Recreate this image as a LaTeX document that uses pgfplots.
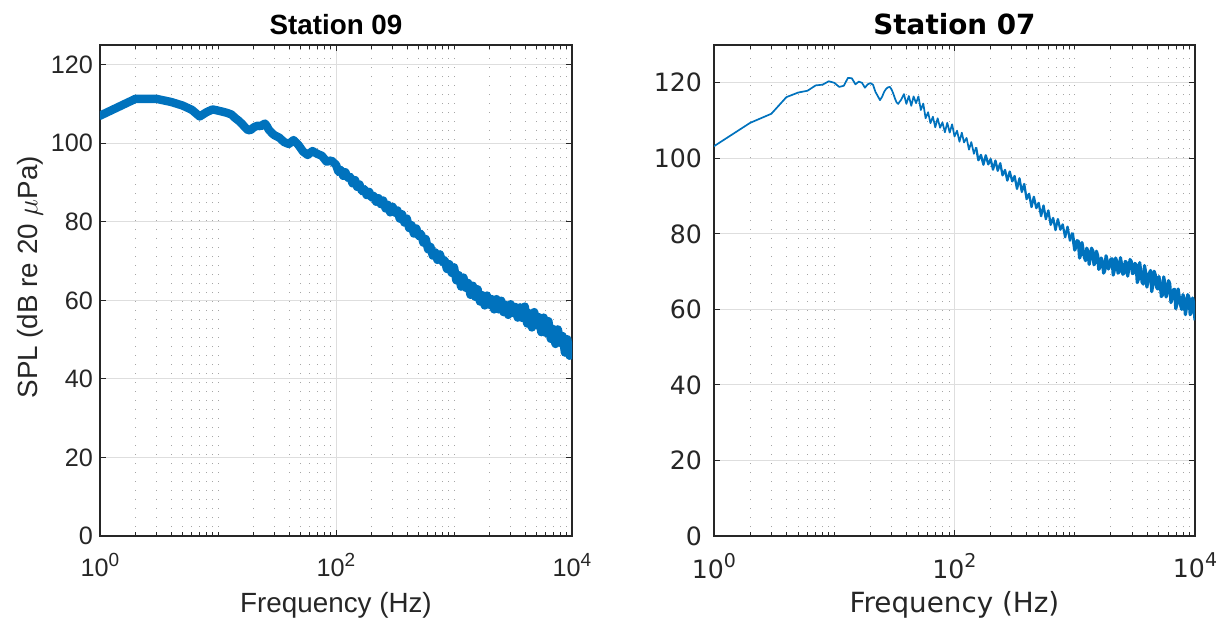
\documentclass[border=0pt]{standalone}
\usepackage{pgfplots}
\pgfplotsset{compat=1.18}
\usepackage{fontspec}
\setmainfont{Liberation Sans}
\newfontfamily\arialf{Liberation Sans}
\newfontfamily\dejavu{DejaVu Sans}
\definecolor{mblue}{RGB}{0,114,189}
\definecolor{txt}{RGB}{38,38,38}
\definecolor{majgrid}{RGB}{222,222,222}
\definecolor{mingrid}{RGB}{165,165,165}
\newcommand\ten[1]{10\raisebox{0.8ex}{\fontsize{9.5}{9.5}\selectfont #1}}
\pgfplotsset{
 mystyle/.style={
  scale only axis, height=245.5pt,
  xmin=1, xmax=10000, ymin=0,
  xtick={1,100,10000},
  xticklabels={\ten{0},\ten{2},\ten{4}},
  minor xtick={2,3,4,5,6,7,8,9,10,20,30,40,50,60,70,80,90,200,300,400,500,600,700,800,900,1000,2000,3000,4000,5000,6000,7000,8000,9000},
  ytick={0,20,...,120},
  xmajorgrids, ymajorgrids, xminorgrids,
  major grid style={draw=majgrid, line width=0.5pt},
  minor grid style={draw=mingrid, line width=0.5pt, dash pattern=on 0.5pt off 4pt},
  axis line style={draw=txt, line width=0.6pt},
  major tick style={draw=txt, line width=0.5pt},
  minor tick style={draw=txt, line width=0.5pt},
  major tick length=3pt, minor tick length=2pt,
  /pgf/number format/assume math mode=true,
  tick label style={text=txt},
  label style={text=txt},
  title style={at={(0.5,1)}, anchor=base, yshift=-0.5pt, text=black},
  xlabel style={at={(axis description cs:0.5,-0.1405)}, anchor=center},
  xticklabel style={yshift=-5pt},
 }
}
\begin{document}
\begin{tikzpicture}
\path[use as bounding box] (-50pt,-43.5pt) rectangle (560.5pt,268pt);
\begin{semilogxaxis}[mystyle, width=236pt, ymax=125,
  at={(0pt,0pt)}, anchor=south west,
  tick label style={font=\arialf\fontsize{12.6}{15}\selectfont},
  label style={font=\arialf\fontsize{13.9}{16}\selectfont},
  title style={font=\arialf\bfseries\fontsize{13.9}{16}\selectfont},
  title={Station 09},
  xlabel={Frequency (Hz)},
  ylabel={SPL (dB re 20 $\mu$Pa)},
  ylabel style={at={(axis description cs:-0.148,0.527)}, anchor=center},
]
\addplot[mblue, line width=4.2pt, line join=round, line cap=round] coordinates {
(1,107.0)(2,111.3)(3,111.3)(4,110.5)(5,109.6)(6,108.5)(7,106.8)(8,107.9)(9,108.6)(10,108.3)
(11,108.0)(12,107.7)(13,107.3)(14,106.4)(15,105.7)(16,104.9)(17,104.0)(18,103.3)(19,103.4)(20,104.0)
(21,104.3)(22,104.5)(23,104.3)(24,104.7)(25,105.0)(26,104.3)(27,103.4)(28,102.9)(29,102.4)
(30.2,102.0)(33.1,101.4)(36.3,100.3)(39.8,99.8)(43.7,100.8)(47.9,99.6)(52.5,97.9)(57.5,97.0)
(63.1,98.0)(69.2,97.3)(75.9,96.8)(83.2,95.3)(91.2,95.6)
(100,94.5)(105,92.7)(110,93.2)(115,91.7)(120,92.6)(126,91.2)(132,91.4)(138,89.8)(145,90.6)(151,88.9)
(158,89.5)(166,87.8)(174,88.3)(182,86.8)(191,87.6)(200,86.2)(209,86.6)(219,85.1)(229,86.0)(240,84.5)
(251,85.4)(263,83.4)(275,84.3)(288,82.4)(302,83.8)(316,82.3)(331,82.9)(347,80.8)(363,81.9)(380,79.8)
(398,80.8)(417,78.4)(437,79.1)(457,77.0)(479,78.3)(501,76.4)(525,76.9)(550,74.7)(575,75.6)(603,73.0)
(631,73.6)(661,71.4)(692,72.2)(724,70.3)(759,71.7)(794,69.8)(832,70.2)(871,68.0)(912,69.2)(955,67.0)
(1000,68.4)(1047,65.1)(1096,66.4)(1148,63.5)(1202,65.8)(1259,63.2)(1318,64.4)(1380,61.4)(1445,63.7)(1514,60.9)
(1585,62.8)(1660,59.7)(1738,61.3)(1820,58.7)(1905,61.2)(1995,58.9)(2089,60.3)(2188,57.7)(2291,60.3)(2399,57.7)
(2512,59.9)(2630,57.0)(2754,58.8)(2884,56.3)(3020,59.0)(3162,56.8)(3311,58.3)(3467,55.6)(3631,58.2)(3802,55.5)
(3981,58.4)(4169,54.1)(4365,56.7)(4571,53.1)(4786,57.0)(5012,53.7)(5248,55.7)(5495,51.9)(5754,55.6)(6026,51.7)
(6310,54.7)(6607,50.2)(6918,52.7)(7244,48.9)(7586,52.6)(7943,49.2)(8318,50.9)(8710,46.7)(9120,50.1)(9550,45.9)
(10000,47.0)
};
\end{semilogxaxis}
\begin{semilogxaxis}[mystyle, width=240.5pt, ymax=130,
  at={(307pt,0pt)}, anchor=south west,
  tick label style={font=\dejavu\fontsize{12.6}{15}\selectfont},
  label style={font=\dejavu\fontsize{13.9}{16}\selectfont},
  title style={font=\dejavu\bfseries\fontsize{13.9}{16}\selectfont},
  yticklabel style={xshift=-2.5pt},
  title={Station 07},
  xlabel={Frequency (Hz)},
]
\addplot[mblue, line width=0.85pt, line join=round] coordinates {
(1,103.2)(2,109.4)(3,111.8)(4,116.2)(5,117.4)(6,117.9)(7,119.3)(8,119.5)(9,120.4)(10,120.0)
(11,118.9)(12,119.2)(13,121.3)(14,121.2)(15,119.6)(16,120.3)(17,120.0)(18,118.7)(19,119.6)(20,119.9)
(21,119.5)(22,117.6)(23,116.5)(24,115.4)(25,116.3)(26,117.6)(27,118.4)(28,118.8)(29,118.9)(30,118.2)
(31,117.1)(32,115.8)(33,114.8)(34,114.4)(35,115.0)(36,115.5)(37,116.3)
(38.0,117.0)(39.8,114.4)(41.7,116.5)(43.7,113.9)(45.7,116.4)(47.9,114.6)(50.1,116.4)(52.5,112.8)(55.0,114.5)(57.5,110.6)
(60.3,112.2)(63.1,109.3)(66.1,111.0)(69.2,108.2)(72.4,110.6)(75.9,108.1)(79.4,109.5)(83.2,106.9)(87.1,109.4)(91.2,106.8)(95.5,109.0)
(100,105.8)(105,107.3)(110,104.4)(115,106.8)(120,104.2)(126,105.4)(132,102.3)(138,104.3)(145,101.2)(151,102.9)
};
\addplot[mblue, line width=1.15pt, line join=round] coordinates {
(151,102.9)
(158,99.5)(166,100.9)(174,98.3)(182,100.8)(191,98.4)(200,99.8)(209,97.0)(219,99.4)(229,96.7)(240,98.7)
(251,95.5)(263,96.9)(275,94.1)(288,96.5)(302,93.9)(316,95.3)(331,91.9)(347,94.7)(363,91.1)(380,93.2)
(398,89.2)(417,90.6)(437,87.1)(457,89.8)(479,86.8)(501,88.2)(525,84.7)(550,87.5)(575,83.9)(603,86.2)
(631,82.4)(661,84.2)(692,81.0)(724,83.9)(759,81.1)(794,82.5)(832,79.1)(871,81.9)(912,78.2)(955,80.3)
};
\addplot[mblue, line width=1.6pt, line join=round] coordinates {
(955,80.3)
(1000,75.7)(1023,76.6)(1047,78.2)(1072,78.0)(1096,73.6)(1122,74.5)(1148,77.7)(1175,75.6)(1202,73.8)(1230,72.9)
(1259,76.2)(1288,75.3)(1318,71.9)(1349,73.7)(1380,76.2)(1413,75.5)(1445,71.8)(1479,72.4)(1514,75.4)(1549,74.3)
(1585,70.6)(1622,71.2)(1660,73.6)(1698,72.7)(1738,69.6)(1778,70.3)(1820,74.2)(1862,72.8)(1905,70.7)(1950,71.4)
(1995,73.3)(2042,73.4)(2089,69.1)(2138,70.5)(2188,73.6)(2239,72.6)(2291,69.6)(2344,69.9)(2399,73.7)(2455,71.8)
(2512,69.3)(2570,69.6)(2630,72.7)(2692,72.4)(2754,68.8)(2818,70.9)(2884,73.2)(2951,72.7)(3020,69.5)(3090,69.6)
(3162,72.2)(3236,71.8)(3311,67.1)(3388,68.1)(3467,72.4)(3548,69.8)(3631,67.2)(3715,66.7)(3802,71.6)(3890,69.7)
(3981,65.9)(4074,67.9)(4169,69.5)(4266,70.3)(4365,64.7)(4467,66.7)(4571,70.1)(4677,69.1)(4786,65.9)(4898,65.4)
(5012,68.7)(5129,67.0)(5248,63.4)(5370,63.8)(5495,68.6)(5623,66.6)(5754,63.3)(5888,64.6)(6026,67.6)(6166,66.8)
(6310,61.8)(6457,63.1)(6607,65.2)(6761,65.3)(6918,60.2)(7079,61.5)(7244,65.4)(7413,63.1)(7586,61.1)(7762,60.0)
(7943,63.9)(8128,62.8)(8318,58.6)(8511,60.8)(8710,63.9)(8913,63.1)(9120,58.6)(9333,59.3)(9550,63.0)(9772,61.6)
(10000,57.1)
};
\end{semilogxaxis}
\end{tikzpicture}
\end{document}
